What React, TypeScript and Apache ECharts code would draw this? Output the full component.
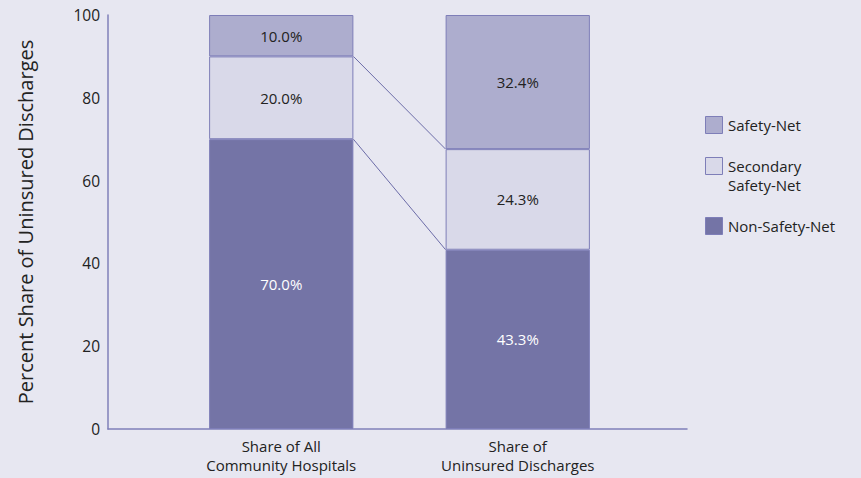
import React, { useEffect, useRef } from "react";
import * as echarts from "echarts";

const categories = ["Share of All\nCommunity Hospitals", "Share of\nUninsured Discharges"];
const seriesNames = ["Non-Safety-Net", "Secondary Safety-Net", "Safety-Net"];
const nonSafetyNet = [70.0, 43.3];
const secondarySafetyNet = [20.0, 24.3];
const safetyNet = [10.0, 32.4];
const yTicks = [0, 20, 40, 60, 80, 100];

const FONT = "Open Sans";
const BG = "#e7e7f1";
const C_NON = "#7474a6";
const C_SEC = "#d9d9e9";
const C_SAFE = "#adadce";
const BORDER = "#7e7eb8";
const AXIS = "#8080b9";

export default function App() {
  const ref = useRef<HTMLDivElement>(null);
  useEffect(() => {
    document.body.style.margin = "0";
    const chart = echarts.init(ref.current!, null, { renderer: "svg" });
    const barFrac = 0.61;
    const hw = barFrac / 2;
    const cum1 = nonSafetyNet.map((v, i) => v + secondarySafetyNet[i]);
    const labelStyle = (color: string) => ({
      show: true,
      position: "inside",
      color,
      fontFamily: FONT,
      fontSize: 15,
      formatter: (p: any) => `${Number(p.value).toFixed(1)}%`,
    });
    const bar = (name: string, data: number[], color: string, labelColor: string) => ({
      name,
      type: "bar",
      xAxisIndex: 1,
      yAxisIndex: 1,
      stack: "total",
      barWidth: `${barFrac * 100}%`,
      data,
      itemStyle: { color, borderColor: BORDER, borderWidth: 1 },
      label: labelStyle(labelColor),
      silent: true,
    });
    const connector = (a: number[]) => ({
      type: "line",
      xAxisIndex: 2,
      yAxisIndex: 1,
      data: [
        [0 + hw, a[0]],
        [1 - hw, a[1]],
      ],
      symbol: "none",
      lineStyle: { color: "#6c6ca8", width: 1 },
      silent: true,
    });
    const legendItems = [
      { name: "Safety-Net", color: C_SAFE, y: 116 },
      { name: "Secondary\nSafety-Net", color: C_SEC, y: 157 },
      { name: "Non-Safety-Net", color: C_NON, y: 217 },
    ];
    chart.setOption({
      animation: false,
      backgroundColor: BG,
      textStyle: { fontFamily: FONT },
      grid: [
        { left: 108, right: 174, top: 15, bottom: 49 },
        { left: 163, width: 473, top: 15, bottom: 49 },
      ],
      xAxis: [
        {
          gridIndex: 0,
          type: "value",
          min: 0,
          max: 1,
          axisLine: { show: true, lineStyle: { color: AXIS, width: 1.5 } },
          axisTick: { show: false },
          axisLabel: { show: false },
          splitLine: { show: false },
        },
        {
          gridIndex: 1,
          type: "category",
          data: categories,
          axisLine: { show: false },
          axisTick: { show: false },
          axisLabel: {
            color: "#222",
            fontFamily: FONT,
            fontSize: 15,
            lineHeight: 18.5,
            margin: 8,
          },
        },
        {
          gridIndex: 1,
          type: "value",
          min: -0.5,
          max: 1.5,
          show: false,
        },
      ],
      yAxis: [
        {
          gridIndex: 0,
          type: "value",
          min: yTicks[0],
          max: yTicks[yTicks.length - 1],
          interval: 20,
          name: "Percent Share of Uninsured Discharges",
          nameLocation: "middle",
          nameGap: 73,
          nameRotate: 90,
          nameTextStyle: { fontFamily: FONT, fontSize: 20, color: "#222" },
          axisLine: { show: true, lineStyle: { color: AXIS, width: 1.5 } },
          axisTick: { show: false },
          axisLabel: { color: "#222", fontFamily: FONT, fontSize: 15.5, margin: 8 },
          splitLine: { show: false },
        },
        {
          gridIndex: 1,
          type: "value",
          min: 0,
          max: 100,
          show: false,
        },
      ],
      series: [
        bar(seriesNames[0], nonSafetyNet, C_NON, "#ffffff"),
        bar(seriesNames[1], secondarySafetyNet, C_SEC, "#222"),
        bar(seriesNames[2], safetyNet, C_SAFE, "#222"),
        connector(nonSafetyNet),
        connector(cum1),
      ],
      graphic: legendItems.flatMap((it) => [
        {
          type: "rect",
          left: 705,
          top: it.y,
          shape: { width: 17, height: 17 },
          style: { fill: it.color, stroke: BORDER, lineWidth: 1 },
        },
        {
          type: "text",
          left: 728,
          top: it.y - 1,
          style: {
            text: it.name,
            fill: "#222",
            font: `15px "${FONT}"`,
            lineHeight: 19,
          },
        },
      ]),
    });
    return () => chart.dispose();
  }, []);
  return <div ref={ref} style={{ width: 861, height: 478 }} />;
}
